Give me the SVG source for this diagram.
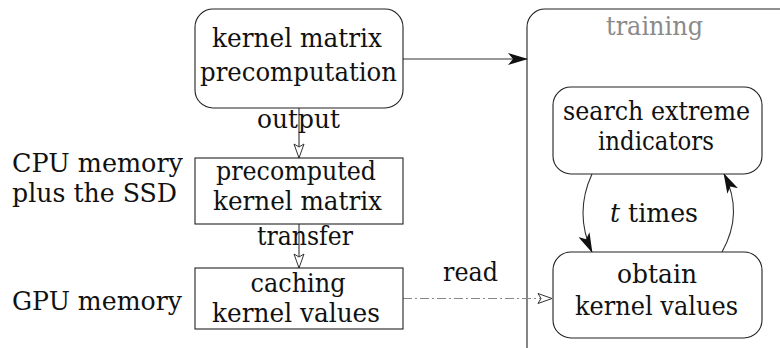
<svg xmlns="http://www.w3.org/2000/svg" width="780" height="348" viewBox="0 0 780 348">
<style>
text{font-family:"DejaVu Serif",serif;font-size:26px;fill:#111}
.c{text-anchor:middle}
.box{fill:#fff;stroke:#222;stroke-width:1.1}
.ln{fill:none;stroke:#333;stroke-width:1.1}
.gray{fill:#8a8a8a}
</style>
<defs>
<marker id="stealth" viewBox="0 0 20 12" refX="19" refY="6" markerWidth="20" markerHeight="12" markerUnits="userSpaceOnUse" orient="auto">
<path d="M0,0 L20,6 L0,12 L5,6 Z" fill="#111"/>
</marker>
<marker id="open" viewBox="0 0 16 12" refX="15" refY="6" markerWidth="16" markerHeight="12" markerUnits="userSpaceOnUse" orient="auto">
<path d="M1,1 L15,6 L1,11 L4,6 Z" fill="#fff" stroke="#333" stroke-width="1"/>
</marker>
</defs>

<g id="training">
<rect class="box" x="527" y="9" width="270" height="360" rx="18" ry="18"/>
<text class="c gray" x="654.5" y="35" textLength="97" lengthAdjust="spacingAndGlyphs">training</text>
</g>

<g id="labels">
<text x="12" y="172" textLength="171" lengthAdjust="spacingAndGlyphs">CPU memory</text>
<text x="12" y="202" textLength="165" lengthAdjust="spacingAndGlyphs">plus the SSD</text>
<text x="12" y="310" textLength="170" lengthAdjust="spacingAndGlyphs">GPU memory</text>
</g>

<g id="connectors">
<path class="ln" d="M403,59 H527" marker-end="url(#stealth)"/>
<path class="ln" d="M299,108 V158" marker-end="url(#open)"/>
<path class="ln" d="M299,224 V268" marker-end="url(#open)"/>
<path d="M403,298.5 H552" fill="none" stroke="#888" stroke-width="1.2" stroke-dasharray="9 3 2 3" marker-end="url(#open)"/>
<path class="ln" d="M592,174 Q574,213 592,252" marker-end="url(#stealth)"/>
<path class="ln" d="M722,252 Q744,213 724,174" marker-end="url(#stealth)"/>
<text class="c" x="298.5" y="128" textLength="83" lengthAdjust="spacingAndGlyphs">output</text>
<text x="257" y="245" textLength="96" lengthAdjust="spacingAndGlyphs">transfer</text>
<text x="443" y="281" textLength="55" lengthAdjust="spacingAndGlyphs">read</text>
<text class="c" x="654" y="222" textLength="88" lengthAdjust="spacingAndGlyphs"><tspan font-style="italic">t</tspan> times</text>
</g>

<g id="precomputation">
<rect class="box" x="195" y="9" width="208" height="99" rx="18" ry="18"/>
<text class="c" x="297" y="47" textLength="170" lengthAdjust="spacingAndGlyphs">kernel matrix</text>
<text class="c" x="298.5" y="81" textLength="197" lengthAdjust="spacingAndGlyphs">precomputation</text>
</g>

<g id="precomputed">
<rect class="box" x="195" y="158" width="208" height="66"/>
<text class="c" x="296" y="180" textLength="160" lengthAdjust="spacingAndGlyphs">precomputed</text>
<text class="c" x="297.5" y="210" textLength="169" lengthAdjust="spacingAndGlyphs">kernel matrix</text>
</g>

<g id="caching">
<rect class="box" x="195" y="268" width="208" height="61"/>
<text class="c" x="298" y="292" textLength="95" lengthAdjust="spacingAndGlyphs">caching</text>
<text class="c" x="296" y="322" textLength="168" lengthAdjust="spacingAndGlyphs">kernel values</text>
</g>

<g id="search">
<rect class="box" x="553" y="87" width="209" height="87" rx="18" ry="18"/>
<text class="c" x="656.5" y="120" textLength="187" lengthAdjust="spacingAndGlyphs">search extreme</text>
<text class="c" x="656" y="150" textLength="116" lengthAdjust="spacingAndGlyphs">indicators</text>
</g>

<g id="obtain">
<rect class="box" x="553" y="252" width="209" height="86" rx="18" ry="18"/>
<text class="c" x="657" y="283" textLength="80" lengthAdjust="spacingAndGlyphs">obtain</text>
<text class="c" x="656.5" y="315" textLength="163" lengthAdjust="spacingAndGlyphs">kernel values</text>
</g>
</svg>
